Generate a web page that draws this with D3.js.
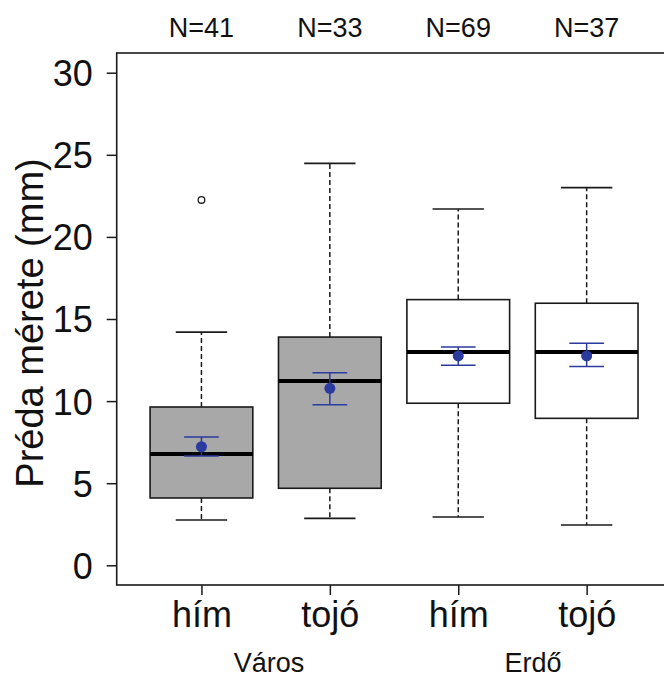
<!DOCTYPE html>
<html>
<head>
<meta charset="utf-8">
<script src="https://cdn.jsdelivr.net/npm/d3@7"></script>
<style>
  html, body { margin: 0; padding: 0; background: #fff; }
  text { font-family: "Liberation Sans", Arial, sans-serif; fill: #111; }
</style>
</head>
<body>
<script>
// ---- data ----
const categories = ["hím", "tojó", "hím", "tojó"];
const groups = ["Város", "Erdő"];
const nLabels = ["N=41", "N=33", "N=69", "N=37"];
const fills = ["#a8a8a8", "#a8a8a8", "#ffffff", "#ffffff"];
const lowerWhisker = [2.76, 2.86, 2.94, 2.45];
const q1 = [4.10, 4.69, 9.87, 8.95];
const median = [6.78, 11.22, 12.99, 12.99];
const q3 = [9.64, 13.90, 16.18, 15.96];
const upperWhisker = [14.2, 24.48, 21.7, 23.0];
const outliers = [[22.25], [], [], []];
const means = [7.22, 10.78, 12.75, 12.75];
const seLow = [6.66, 9.78, 12.18, 12.10];
const seHigh = [7.81, 11.73, 13.30, 13.52];
const yTicks = [0, 5, 10, 15, 20, 25, 30];

// ---- layout ----
const W = 664, H = 677;
const svg = d3.select("body").append("svg").attr("width", W).attr("height", H);

const x = d3.scaleLinear().domain([0.34, 4.66]).range([116.7, 671.4]);
const y = d3.scaleLinear().domain([-1.2, 31.2]).range([585, 53]);
const ux = x(1) - x(0);
const boxW = 0.8 * ux, capW = 0.4 * ux, seW = 0.27 * ux;
const blue = "#2b3a9e";
const ink = "#1a1a1a";

const data = categories.map((c, i) => ({
  i, pos: i + 1, lw: lowerWhisker[i], q1: q1[i], med: median[i], q3: q3[i],
  uw: upperWhisker[i], out: outliers[i], mean: means[i], lo: seLow[i], hi: seHigh[i], fill: fills[i]
}));

// frame
svg.append("rect")
  .attr("x", x(0.34)).attr("y", y(31.2))
  .attr("width", x(4.66) - x(0.34)).attr("height", y(-1.2) - y(31.2))
  .attr("fill", "none").attr("stroke", ink).attr("stroke-width", 1.6);

const g = svg.selectAll("g.box").data(data).join("g").attr("class", "box");

// whiskers (dashed)
g.append("line").attr("x1", d => x(d.pos)).attr("x2", d => x(d.pos))
  .attr("y1", d => y(d.q3)).attr("y2", d => y(d.uw))
  .attr("stroke", ink).attr("stroke-width", 1.5).attr("stroke-dasharray", "5,3");
g.append("line").attr("x1", d => x(d.pos)).attr("x2", d => x(d.pos))
  .attr("y1", d => y(d.q1)).attr("y2", d => y(d.lw))
  .attr("stroke", ink).attr("stroke-width", 1.5).attr("stroke-dasharray", "5,3");
// caps
g.append("line").attr("x1", d => x(d.pos) - capW / 2).attr("x2", d => x(d.pos) + capW / 2)
  .attr("y1", d => y(d.uw)).attr("y2", d => y(d.uw))
  .attr("stroke", ink).attr("stroke-width", 1.6);
g.append("line").attr("x1", d => x(d.pos) - capW / 2).attr("x2", d => x(d.pos) + capW / 2)
  .attr("y1", d => y(d.lw)).attr("y2", d => y(d.lw))
  .attr("stroke", ink).attr("stroke-width", 1.6);
// box
g.append("rect").attr("x", d => x(d.pos) - boxW / 2).attr("width", boxW)
  .attr("y", d => y(d.q3)).attr("height", d => y(d.q1) - y(d.q3))
  .attr("fill", d => d.fill).attr("stroke", ink).attr("stroke-width", 1.6);
// median
g.append("line").attr("x1", d => x(d.pos) - boxW / 2).attr("x2", d => x(d.pos) + boxW / 2)
  .attr("y1", d => y(d.med)).attr("y2", d => y(d.med))
  .attr("stroke", "#000").attr("stroke-width", 4);
// outliers
g.selectAll("circle.out").data(d => d.out.map(v => ({ pos: d.pos, v }))).join("circle")
  .attr("class", "out").attr("cx", d => x(d.pos)).attr("cy", d => y(d.v)).attr("r", 3.3)
  .attr("fill", "none").attr("stroke", ink).attr("stroke-width", 1.3);
// mean +- se
g.append("line").attr("x1", d => x(d.pos)).attr("x2", d => x(d.pos))
  .attr("y1", d => y(d.lo)).attr("y2", d => y(d.hi))
  .attr("stroke", blue).attr("stroke-width", 1.5);
g.append("line").attr("x1", d => x(d.pos) - seW / 2).attr("x2", d => x(d.pos) + seW / 2)
  .attr("y1", d => y(d.lo)).attr("y2", d => y(d.lo))
  .attr("stroke", blue).attr("stroke-width", 1.5);
g.append("line").attr("x1", d => x(d.pos) - seW / 2).attr("x2", d => x(d.pos) + seW / 2)
  .attr("y1", d => y(d.hi)).attr("y2", d => y(d.hi))
  .attr("stroke", blue).attr("stroke-width", 1.5);
g.append("circle").attr("cx", d => x(d.pos)).attr("cy", d => y(d.mean)).attr("r", 5.5)
  .attr("fill", blue);

// y axis
const yAxis = svg.append("g").attr("transform", `translate(${x(0.34)},0)`)
  .call(d3.axisLeft(y).tickValues(yTicks).tickSize(10).tickPadding(14).tickFormat(d3.format("d")));
yAxis.select(".domain").remove();
yAxis.selectAll(".tick line").attr("stroke", ink).attr("stroke-width", 1.5);
yAxis.selectAll(".tick text").attr("font-size", 36).attr("fill", "#111")
  .attr("font-family", "Liberation Sans, Arial, sans-serif").attr("dy", "0.36em");

// x axis
const xAxis = svg.append("g").attr("transform", `translate(0,${y(-1.2)})`)
  .call(d3.axisBottom(x).tickValues([1, 2, 3, 4]).tickSize(10).tickFormat((d, i) => categories[i]));
xAxis.select(".domain").remove();
xAxis.selectAll(".tick line").attr("stroke", ink).attr("stroke-width", 1.5);
xAxis.selectAll(".tick text").attr("font-size", 36).attr("fill", "#111")
  .attr("font-family", "Liberation Sans, Arial, sans-serif").attr("y", 42).attr("dy", 0);

// N labels
svg.selectAll("text.n").data(nLabels).join("text").attr("class", "n")
  .attr("x", (d, i) => x(i + 1)).attr("y", 37).attr("text-anchor", "middle")
  .attr("font-size", 27).text(d => d);

// group labels
const groupX = [269, 533];
svg.selectAll("text.grp").data(groups).join("text").attr("class", "grp")
  .attr("x", (d, i) => groupX[i]).attr("y", 672).attr("text-anchor", "middle")
  .attr("font-size", 27).text(d => d);

// y title
svg.append("text").attr("transform", "translate(43,323) rotate(-90)")
  .attr("text-anchor", "middle").attr("font-size", 38).text("Préda mérete (mm)");
</script>
</body>
</html>
